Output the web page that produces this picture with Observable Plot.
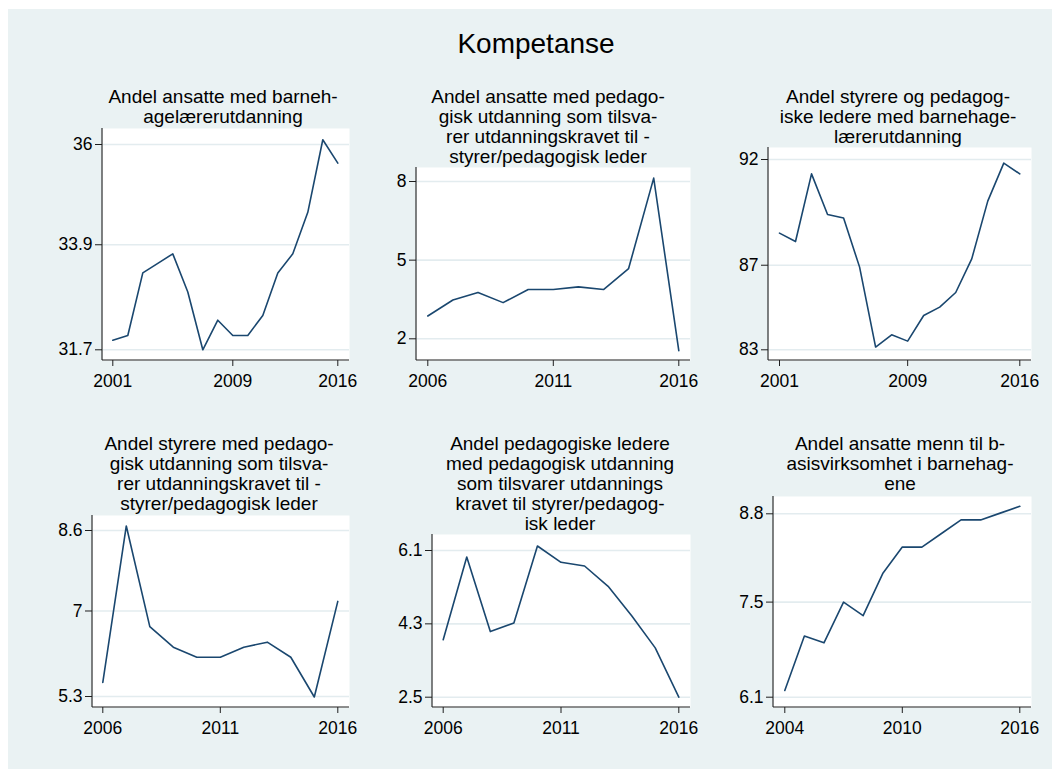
<!DOCTYPE html>
<html>
<head>
<meta charset="utf-8">
<script src="https://cdn.jsdelivr.net/npm/d3@7"></script>
<script src="https://cdn.jsdelivr.net/npm/@observablehq/plot@0.6"></script>
<style>
  body { margin: 0; background: #fff; }
  #root { position: relative; width: 1052px; height: 769px; background: #fff; overflow: hidden;
          font-family: 'Liberation Sans', Arial, sans-serif; color: #000; }
  #bg { position: absolute; left: 8px; top: 9px; right: 0; bottom: 0; background: #eaf2f3; }
  .main-title { position: absolute; left: 336px; width: 400px; top: 30px; text-align: center;
                font-size: 28px; line-height: 28px; }
  .ptitle { position: absolute; width: 320px; text-align: center; font-size: 19px; line-height: 20px; white-space: nowrap; }
  .panel { position: absolute; }
</style>
</head>
<body>
<div id="root"><div id="bg"></div></div>
<script>
// ---------- data ----------
const mainTitle = "Kompetanse";

const yearsA = [2001, 2002, 2003, 2004, 2005, 2006, 2007, 2008, 2009, 2010, 2011, 2012, 2013, 2014, 2015, 2016];
const yearsB = [2006, 2007, 2008, 2009, 2010, 2011, 2012, 2013, 2014, 2015, 2016];
const yearsC = [2004, 2005, 2006, 2007, 2008, 2009, 2010, 2011, 2012, 2013, 2014, 2015, 2016];

const ansatteBarnehagelarer = [31.9, 32.0, 33.31, 33.51, 33.71, 32.91, 31.7, 32.32, 32.0, 32.0, 32.42, 33.31, 33.71, 34.58, 36.1, 35.61];
const ansattePedagogisk = [2.87, 3.48, 3.77, 3.38, 3.88, 3.88, 3.98, 3.88, 4.68, 8.13, 1.55];
const styrereLedereBarnehagelarer = [88.52, 88.12, 91.32, 89.4, 89.23, 86.91, 83.13, 83.71, 83.41, 84.62, 85.02, 85.71, 87.3, 90.03, 91.83, 91.32];
const styrerePedagogisk = [5.58, 8.69, 6.69, 6.28, 6.08, 6.08, 6.28, 6.38, 6.08, 5.29, 7.19];
const ledereePedagogisk = [3.91, 5.94, 4.11, 4.32, 6.21, 5.81, 5.72, 5.22, 4.5, 3.71, 2.5];
const ansatteMenn = [6.2, 7.0, 6.9, 7.5, 7.3, 7.92, 8.31, 8.31, 8.51, 8.71, 8.71, 8.81, 8.91];

const titles = [
  ["Andel ansatte med barneh-", "agelærerutdanning"],
  ["Andel ansatte med pedago-", "gisk utdanning som tilsva-", "rer utdanningskravet til -", "styrer/pedagogisk leder"],
  ["Andel styrere og pedagog-", "iske ledere med barnehage-", "lærerutdanning"],
  ["Andel styrere med pedago-", "gisk utdanning som tilsva-", "rer utdanningskravet til -", "styrer/pedagogisk leder"],
  ["Andel pedagogiske ledere", "med pedagogisk utdanning", "som tilsvarer utdannings", "kravet til styrer/pedagog-", "isk leder"],
  ["Andel ansatte menn til b-", "asisvirksomhet i barnehag-", "ene"]
];

const yTicks = [
  [31.7, 33.9, 36],
  [2, 5, 8],
  [83, 87, 92],
  [5.3, 7, 8.6],
  [2.5, 4.3, 6.1],
  [6.1, 7.5, 8.8]
];
const xTicks = [
  [2001, 2009, 2016],
  [2006, 2011, 2016],
  [2001, 2009, 2016],
  [2006, 2011, 2016],
  [2006, 2011, 2016],
  [2004, 2010, 2016]
];

const seriesYears = [yearsA, yearsB, yearsA, yearsB, yearsB, yearsC];
const seriesValues = [ansatteBarnehagelarer, ansattePedagogisk, styrereLedereBarnehagelarer, styrerePedagogisk, ledereePedagogisk, ansatteMenn];

// ---------- layout (pixel frame of each plot region) ----------
const layout = [
  {left: 102, top: 128, right: 349, bottom: 360, iL: 10.3, iR: 11.7, iT: 16, iB: 10.7, tx: 223, ty: 86.5},
  {left: 416, top: 167, right: 690, bottom: 360, iL: 11.3, iR: 11.7, iT: 14, iB: 21.7, tx: 548, ty: 86.5},
  {left: 768, top: 147, right: 1031, bottom: 360, iL: 11, iR: 11.7, iT: 12, iB: 10.7, tx: 898, ty: 86.5},
  {left: 92, top: 515, right: 349, bottom: 707, iL: 10.3, iR: 11.7, iT: 15, iB: 11, tx: 219, ty: 433.5},
  {left: 432, top: 534, right: 690, bottom: 707, iL: 10.7, iR: 11.7, iT: 16, iB: 10.3, tx: 560, ty: 433.5},
  {left: 773, top: 496, right: 1031, bottom: 707, iL: 11.3, iR: 11.7, iT: 17.3, iB: 10.3, tx: 900, ty: 433.5}
];

const LINE = "#1a476f";
const GRID = "#e3ecef";
const AXIS = "#1e1e1e";
const FONT = "'Liberation Sans', Arial, sans-serif";
const mL = 80, mR = 6, mT = 6, mB = 40;

const root = document.getElementById("root");

const t = document.createElement("div");
t.className = "main-title";
t.textContent = mainTitle;
root.appendChild(t);

layout.forEach((L, i) => {
  const data = seriesYears[i].map((yr, k) => ({year: yr, value: seriesValues[i][k]}));
  const xs = xTicks[i], ys = yTicks[i];
  const w = L.right - L.left, h = L.bottom - L.top;

  const axisLines = () => {
    const g = d3.create("svg:g");
    g.append("line").attr("x1", mL).attr("x2", mL).attr("y1", mT).attr("y2", mT + h)
      .attr("stroke", AXIS).attr("stroke-width", 1.1);
    g.append("line").attr("x1", mL).attr("x2", mL + w).attr("y1", mT + h).attr("y2", mT + h)
      .attr("stroke", AXIS).attr("stroke-width", 1.1);
    return g.node();
  };

  const svg = Plot.plot({
    width: w + mL + mR,
    height: h + mT + mB,
    marginLeft: mL, marginRight: mR, marginTop: mT, marginBottom: mB,
    style: {background: "transparent", fontFamily: FONT, fontSize: "17.5px", color: "#000", overflow: "visible"},
    x: {domain: [xs[0], xs[xs.length - 1]], insetLeft: L.iL, insetRight: L.iR},
    y: {domain: [ys[0], ys[ys.length - 1]], insetTop: L.iT, insetBottom: L.iB},
    marks: [
      Plot.frame({fill: "white", stroke: "none"}),
      Plot.gridY(ys, {stroke: GRID, strokeOpacity: 1, strokeWidth: 1.6}),
      Plot.axisY(ys, {tickSize: 7, tickPadding: 3, label: null, fontSize: 17.5, stroke: AXIS, tickFormat: d => String(d)}),
      Plot.axisX(xs, {tickSize: 6, tickPadding: 8, label: null, fontSize: 17.5, stroke: AXIS, tickFormat: d => String(d)}),
      Plot.line(data, {x: "year", y: "value", stroke: LINE, strokeWidth: 1.6}),
      axisLines
    ]
  });
  svg.classList.add("panel");
  svg.style.left = (L.left - mL) + "px";
  svg.style.top = (L.top - mT) + "px";
  root.appendChild(svg);

  const td = document.createElement("div");
  td.className = "ptitle";
  td.style.left = (L.tx - 160) + "px";
  td.style.top = L.ty + "px";
  titles[i].forEach((line, k) => {
    if (k) td.appendChild(document.createElement("br"));
    td.appendChild(document.createTextNode(line));
  });
  root.appendChild(td);
});
</script>
</body>
</html>
